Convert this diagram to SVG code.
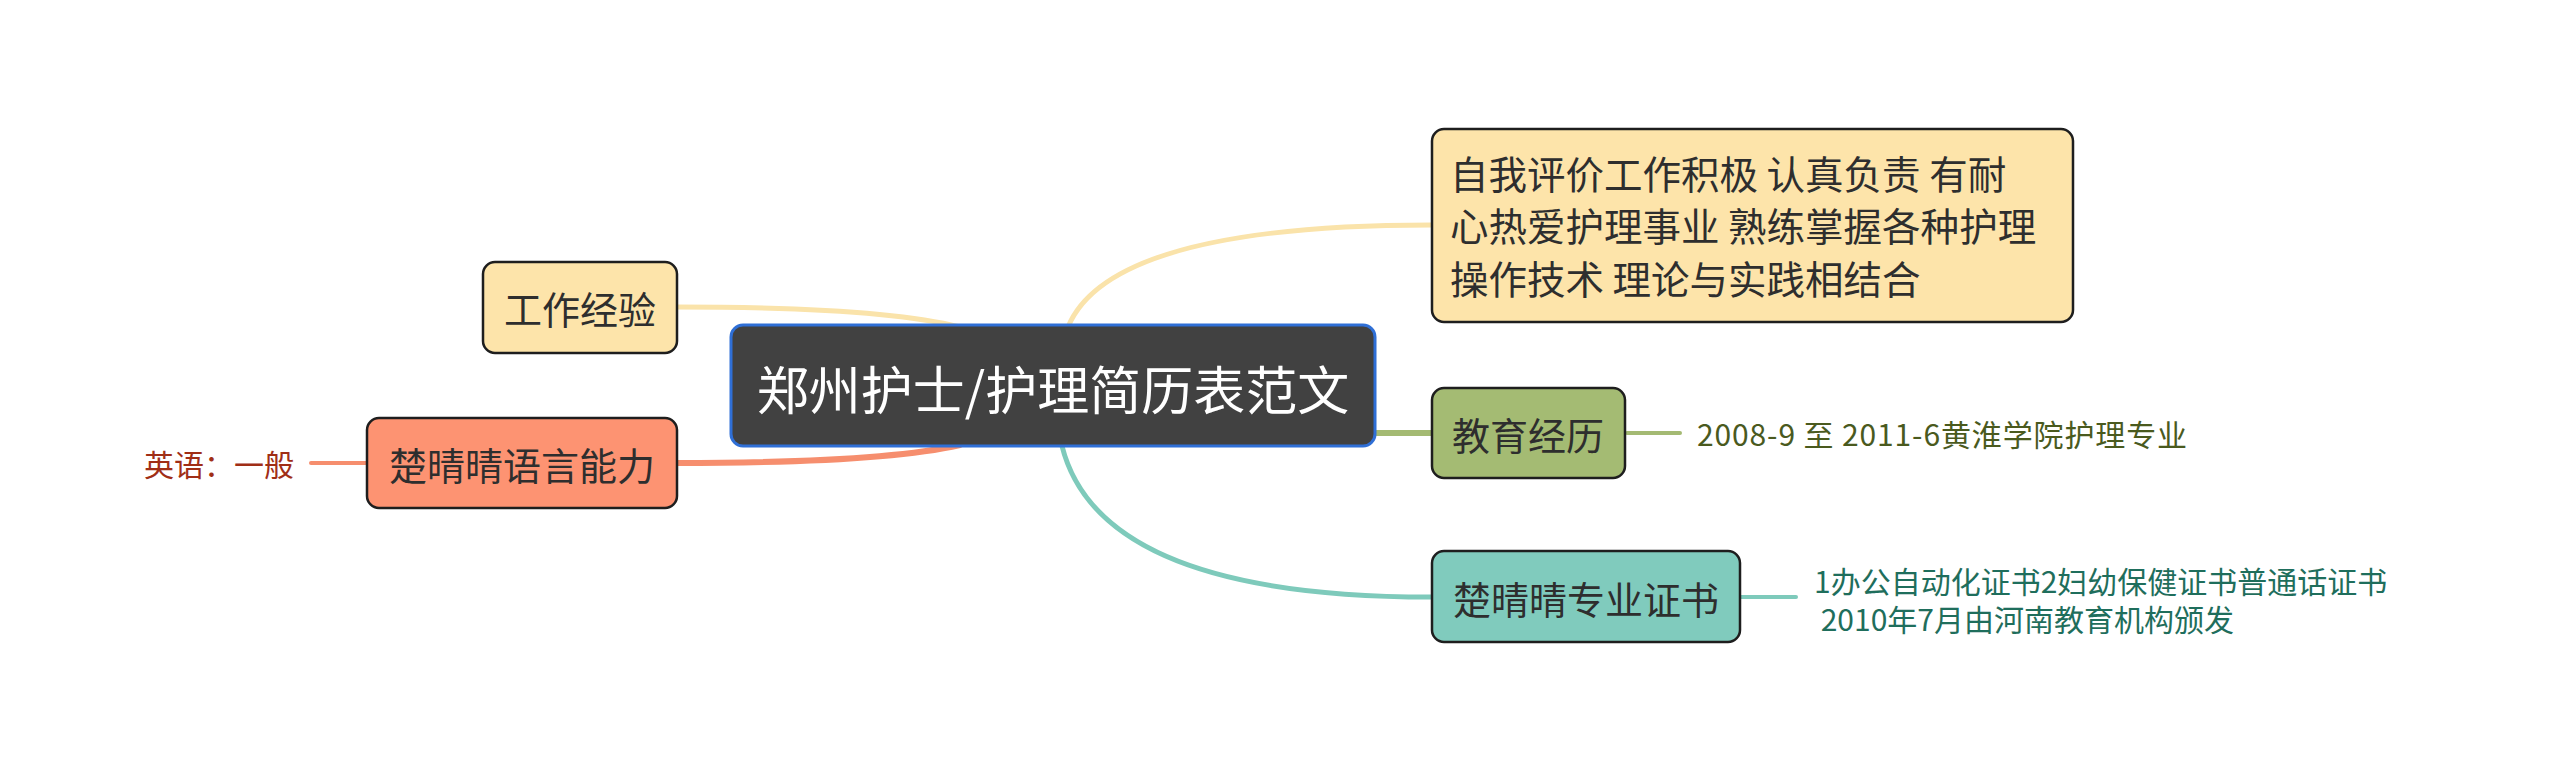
<svg xmlns="http://www.w3.org/2000/svg" width="2560" height="780" viewBox="0 0 2560 780">
<style>
text{font-family:"Noto Sans CJK SC","Noto Sans",sans-serif;dominant-baseline:central}
.node{stroke:#1e1e1e;stroke-width:2.5}
.nt{font-size:38px;fill:#2e2e2e}
.st{font-size:38.5px;fill:#2e2e2e}
.lt{font-size:30px}
.c{fill:none;stroke-linecap:round}
</style>
<rect width="2560" height="780" fill="#ffffff"/>
<g id="connectors">
<path class="c" d="M1068,327 Q1110,225 1431,225" stroke="#fae3aa" stroke-width="5"/>
<path class="c" d="M1375,433 L1431,433" stroke="#a4ba73" stroke-width="6"/>
<path class="c" d="M1062,446 Q1100,597 1431,597" stroke="#7ecabb" stroke-width="5"/>
<path class="c" d="M677,307 Q880,307 960,327" stroke="#fae3aa" stroke-width="5"/>
<path class="c" d="M677,463 Q880,463 960,445" stroke="#f68e6e" stroke-width="6"/>
<path class="c" d="M1627,433 L1680,433" stroke="#a4ba73" stroke-width="4"/>
<path class="c" d="M1741,597 L1796,597" stroke="#7ecabb" stroke-width="4"/>
<path class="c" d="M311,463 L366,463" stroke="#f68e6e" stroke-width="4"/>
</g>
<g id="center">
<rect x="731" y="325" width="644" height="121" rx="12" fill="#414141" stroke="#2f6fd6" stroke-width="3"/>
<text x="1053" y="387" text-anchor="middle" font-size="52" fill="#ffffff">郑州护士/护理简历表范文</text>
</g>
<g id="n-self">
<rect class="node" x="1432" y="129" width="641" height="193" rx="12" fill="#fde4aa"/>
<text class="st" x="1450" y="172">自我评价工作积极 认真负责 有耐</text>
<text class="st" x="1450" y="224">心热爱护理事业 熟练掌握各种护理</text>
<text class="st" x="1450" y="277">操作技术 理论与实践相结合</text>
</g>
<g id="n-edu">
<rect class="node" x="1432" y="388" width="193" height="90" rx="12" fill="#a4bb73"/>
<text class="nt" x="1528" y="433" text-anchor="middle">教育经历</text>
</g>
<g id="n-edu-detail">
<text class="lt" x="1697" y="433" fill="#4a5a1e" textLength="490">2008-9 至 2011-6黄淮学院护理专业</text>
</g>
<g id="n-cert">
<rect class="node" x="1432" y="551" width="308" height="91" rx="12" fill="#80cbbd"/>
<text class="nt" x="1586" y="597" text-anchor="middle">楚晴晴专业证书</text>
</g>
<g id="n-cert-detail">
<text class="lt" x="1814" y="580" fill="#1f6e5c">1办公自动化证书2妇幼保健证书普通话证书</text>
<text class="lt" x="1814" y="618" fill="#1f6e5c" xml:space="preserve"> 2010年7月由河南教育机构颁发</text>
</g>
<g id="n-work">
<rect class="node" x="483" y="262" width="194" height="91" rx="12" fill="#fde4aa"/>
<text class="nt" x="580" y="307" text-anchor="middle">工作经验</text>
</g>
<g id="n-lang">
<rect class="node" x="367" y="418" width="310" height="90" rx="12" fill="#fd9372"/>
<text class="nt" x="522" y="463" text-anchor="middle">楚晴晴语言能力</text>
</g>
<g id="n-lang-detail">
<text class="lt" x="294" y="463" text-anchor="end" fill="#a02e16">英语：一般</text>
</g>
</svg>
